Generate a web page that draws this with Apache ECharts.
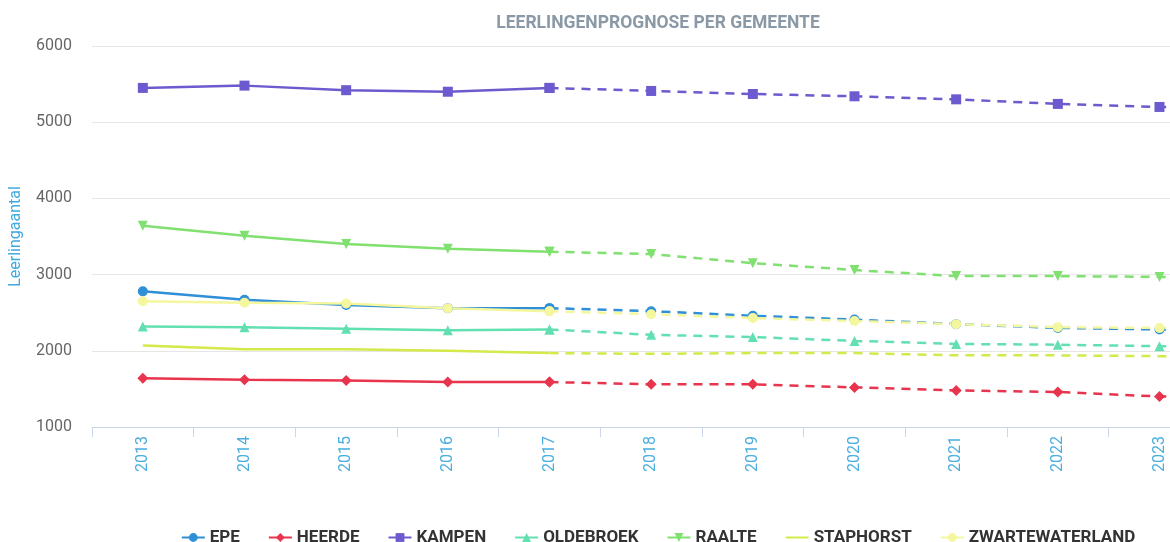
<!DOCTYPE html>
<html>
<head>
<meta charset="utf-8">
<script src="https://cdn.jsdelivr.net/npm/echarts@6/dist/echarts.min.js"></script>
<style>
html,body{margin:0;padding:0;overflow:hidden;background:#fff;width:1170px;height:542px;}
#chart{width:1316px;height:542px;}
</style>
</head>
<body>
<div id="chart"></div>
<script>
const years = ['2013','2014','2015','2016','2017','2018','2019','2020','2021','2022','2023','2024'];
const forecastStart = 4; // index of 2017: dashed from here on
const yTicks = [1000, 6000, 1000]; // min, max, interval

const epe             = [2780, 2670, 2600, 2560, 2560, 2520, 2460, 2410, 2350, 2300, 2280, 2270];
const heerde          = [1640, 1620, 1610, 1590, 1590, 1560, 1560, 1520, 1480, 1460, 1400, 1390];
const kampen          = [5450, 5480, 5420, 5400, 5450, 5410, 5370, 5340, 5300, 5240, 5200, 5180];
const oldebroek       = [2320, 2310, 2290, 2270, 2280, 2210, 2180, 2130, 2090, 2080, 2060, 2060];
const raalte          = [3640, 3510, 3400, 3340, 3300, 3270, 3150, 3060, 2980, 2980, 2970, 2960];
const staphorst       = [2070, 2020, 2020, 2000, 1970, 1960, 1970, 1970, 1940, 1940, 1930, 1930];
const zwartewaterland = [2650, 2630, 2620, 2560, 2520, 2480, 2430, 2390, 2350, 2310, 2300, 2290];

const defs = [
  {name:'EPE', data:epe, color:'#2f90d8', symbol:'circle', rot:0},
  {name:'HEERDE', data:heerde, color:'#e8344c', symbol:'diamond', rot:0},
  {name:'KAMPEN', data:kampen, color:'#6c5acf', symbol:'rect', rot:0},
  {name:'OLDEBROEK', data:oldebroek, color:'#62e0b2', symbol:'triangle', rot:0},
  {name:'RAALTE', data:raalte, color:'#80e070', symbol:'triangle', rot:180},
  {name:'STAPHORST', data:staphorst, color:'#d4e94a', symbol:'none', rot:0},
  {name:'ZWARTEWATERLAND', data:zwartewaterland, color:'#f5f79e', symbol:'circle', rot:0}
];

const series = [];
defs.forEach(d => {
  const solid = d.data.map((v,i) => i <= forecastStart ? v : null);
  const dashed = d.data.map((v,i) => i >= forecastStart ? v : null);
  const base = {
    name: d.name, type: 'line', symbol: d.symbol, symbolRotate: d.rot,
    symbolSize: d.symbol === 'diamond' ? 11 : 10,
    showSymbol: d.symbol !== 'none',
    color: d.color,
    itemStyle: {color: d.color},
    emphasis: {disabled: true},
    animation: false
  };
  series.push(Object.assign({}, base, {data: solid, lineStyle: {width: 2.5, color: d.color}}));
  series.push(Object.assign({}, base, {data: dashed, lineStyle: {width: 2.5, color: d.color, type: [9, 7]}}));
});

const legendData = defs.map(d => d.symbol === 'none'
  ? {name: d.name, itemStyle: {opacity: 0}}
  : {name: d.name});

const chart = echarts.init(document.getElementById('chart'), null, {renderer: 'canvas'});
chart.setOption({
  animation: false,
  title: {
    text: 'LEERLINGENPROGNOSE PER GEMEENTE',
    left: 'center', top: 10,
    textStyle: {fontFamily: 'Roboto', fontWeight: 'bold', fontSize: 17.5, color: '#8a99a5'}
  },
  legend: {
    top: 524, left: 'center',
    itemWidth: 23, itemHeight: 11, itemGap: 28,
    textStyle: {fontFamily: 'Roboto', fontWeight: 'bold', fontSize: 17, color: '#333'},
    data: legendData
  },
  grid: {left: 92, right: 4, top: 46, bottom: 115, containLabel: false},
  xAxis: {
    type: 'category', data: years, boundaryGap: true,
    axisLine: {lineStyle: {color: '#ccd6eb', width: 1}},
    axisTick: {show: true, length: 10, lineStyle: {color: '#ccd6eb'}},
    axisLabel: {rotate: 90, color: '#4aaee0', fontFamily: 'Roboto', fontSize: 16, margin: 9}
  },
  yAxis: {
    type: 'value', min: yTicks[0], max: yTicks[1], interval: yTicks[2],
    name: 'Leerlingaantal', nameLocation: 'middle', nameGap: 68,
    nameTextStyle: {color: '#3fa9e0', fontFamily: 'Roboto', fontSize: 16},
    axisLine: {show: false}, axisTick: {show: false},
    axisLabel: {color: '#666', fontFamily: 'Roboto', fontSize: 16, margin: 20, formatter: v => String(v)},
    splitLine: {lineStyle: {color: '#e6e6e6'}}
  },
  series: series
});
</script>
</body>
</html>
